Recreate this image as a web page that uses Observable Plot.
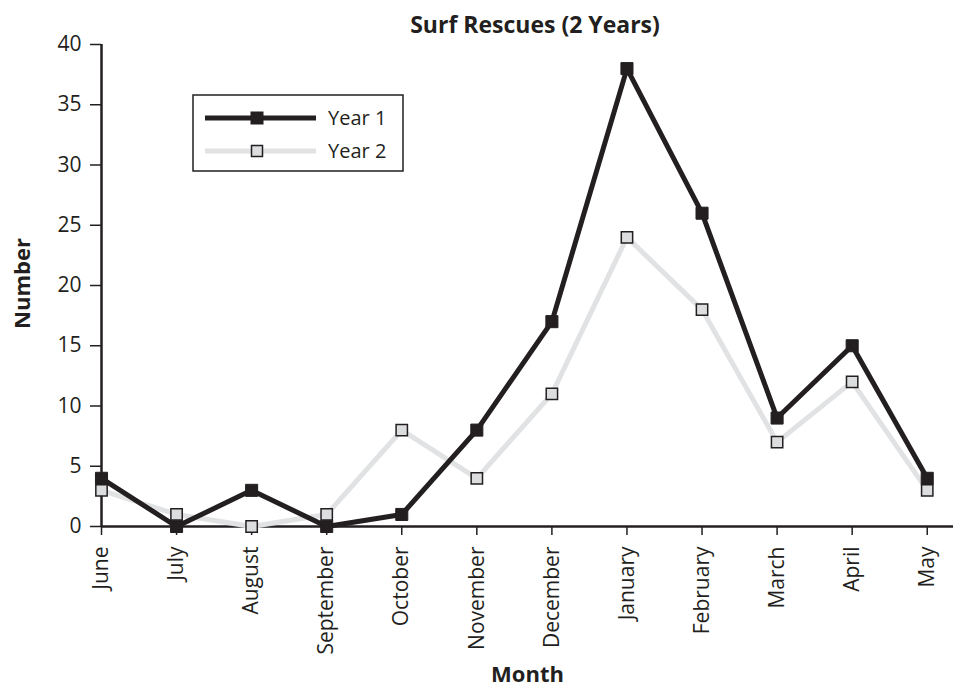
<!DOCTYPE html>
<html><head><meta charset="utf-8">
<script src="https://cdn.jsdelivr.net/npm/d3@7"></script>
<script src="https://cdn.jsdelivr.net/npm/@observablehq/plot@0.6"></script>
<style>
body{margin:0;background:#fff;font-family:"Open Sans",sans-serif;}
#title{width:954px;box-sizing:border-box;padding-left:116px;height:30px;line-height:30px;text-align:center;font-weight:bold;font-size:23px;color:#231f20;position:relative;top:9px;}
</style>
</head><body>
<div id="title">Surf Rescues (2 Years)</div>
<div id="chart"></div>
<script>
const months = ["June","July","August","September","October","November","December","January","February","March","April","May"];
const year1 = [4,0,3,0,1,8,17,38,26,9,15,4];
const year2 = [3,1,0,1,8,4,11,24,18,7,12,3];
const seriesNames = ["Year 1","Year 2"];
const yTicks = [0,5,10,15,20,25,30,35,40];
const yLabel = "Number";
const xLabel = "Month";

const ink = "#231f20";
const light = "#e1e2e3";
const lightFill = "#dcdddf";

const rows1 = year1.map((v,i)=>({i, month:months[i], value:v}));
const rows2 = year2.map((v,i)=>({i, month:months[i], value:v}));

const svg = Plot.plot({
  width:954, height:658,
  marginTop:14, marginBottom:162, marginLeft:101, marginRight:1,
  x:{domain:[0,11.35]},
  y:{domain:[0,40]},
  style:{fontFamily:"'Open Sans', sans-serif", fontSize:"21px", color:ink, background:"#fff"},
  marks:[
    Plot.axisY({ticks:yTicks, tickSize:11, tickPadding:9, label:null, stroke:ink, strokeWidth:1.5, fontSize:21}),
    Plot.axisX({ticks:months.map((m,i)=>i), tickFormat:i=>months[i], tickRotate:-90, tickSize:9, tickPadding:11, label:null, stroke:ink, strokeWidth:1.5, fontSize:21}),
    Plot.ruleY([0], {stroke:ink, strokeWidth:2.5}),
    Plot.ruleX([0], {stroke:ink, strokeWidth:2.5}),
    Plot.line(rows2, {x:"i", y:"value", stroke:light, strokeWidth:5}),
    Plot.line(rows1, {x:"i", y:"value", stroke:ink, strokeWidth:5}),
    Plot.dot(rows1, {x:"i", y:"value", symbol:"square", r:6.8, fill:ink, stroke:ink, strokeWidth:1}),
    Plot.dot(rows2, {x:"i", y:"value", symbol:"square", r:6.4, fill:lightFill, stroke:ink, strokeWidth:1.5}),
    Plot.text([yLabel], {frameAnchor:"left", dx:-79, dy:-2, rotate:-90, textAnchor:"middle", lineAnchor:"middle", fontSize:22, fontWeight:"bold", fill:ink}),
    Plot.text([xLabel], {frameAnchor:"bottom", dy:148, lineAnchor:"middle", fontSize:22, fontWeight:"bold", fill:ink})
  ]
});
document.getElementById("chart").appendChild(svg);

// legend
const g = d3.select(svg).append("g");
g.append("rect").attr("x",193).attr("y",65).attr("width",210).attr("height",76)
  .attr("fill","#fff").attr("stroke",ink).attr("stroke-width",1.5);
const items = [
  {name:seriesNames[0], y:88, line:ink, fill:ink, size:12},
  {name:seriesNames[1], y:121, line:light, fill:lightFill, size:11}
];
items.forEach(it=>{
  g.append("line").attr("x1",205).attr("x2",316).attr("y1",it.y).attr("y2",it.y)
    .attr("stroke",it.line).attr("stroke-width",5);
  g.append("rect").attr("x",257-it.size/2).attr("y",it.y-it.size/2).attr("width",it.size).attr("height",it.size)
    .attr("fill",it.fill).attr("stroke",ink).attr("stroke-width",it.fill===ink?1:1.5);
  g.append("text").attr("x",328).attr("y",it.y).attr("dy","0.36em").attr("text-anchor","start")
    .attr("font-size",20).attr("fill",ink).attr("font-family","'Open Sans', sans-serif").text(it.name);
});
</script>
</body></html>
